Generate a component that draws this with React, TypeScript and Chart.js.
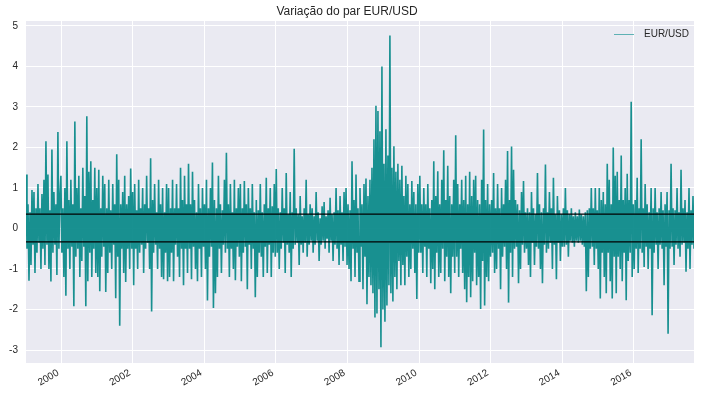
import React, { useEffect, useRef } from "react";
import { Chart, registerables } from "chart.js";

Chart.register(...registerables);

// ---- chart text ----
const chartTitle = "Variação do par EUR/USD";
const seriesLabel = "EUR/USD";

// ---- axes ----
const startYear = 1999.02;
const endYear = 2017.68;
const yMin = -3.32;
const yMax = 5.12;
const xTickYears = [2000, 2002, 2004, 2006, 2008, 2010, 2012, 2014, 2016];
const yTickValues = [-3, -2, -1, 0, 1, 2, 3, 4, 5];

// ---- reference lines (mean +/- std) ----
const bandLevels = [0.355, -0.33];

// ---- daily % variation, read per ~1/36 year (alternating local high / low) ----
const v1999 = [1.33, -0.5, 0.6, -1.29, 0.4, -0.9, 0.95, -0.4, 0.9, -1.1, 0.5, -0.6, 1.1, -0.35, 0.5, -1.0, 0.85, -0.5, 1.2, -0.9, 2.15, -0.4, 1.33, -1.0, 0.45, -1.31, 1.95, -0.6, 0.9, -0.4, 0.6, -1.15, 2.38, -0.5, 0.8];
const v2000 = [1.3, -0.6, 0.5, -1.2, 1.0, -1.66, 2.15, -0.5, 0.7, -1.0, 1.2, -0.45, 0.6, -1.92, 2.64, -0.7, 1.0, -0.5, 1.3, -1.2, 0.5, -0.8, 1.5, -0.45, 0.8, -1.92, 2.77, -1.3, 1.4, -0.6, 1.66, -1.2, 0.7, -0.5, 1.5, -1.1];
const v2001 = [1.0, -1.2, 1.45, -1.55, 0.5, -0.7, 1.3, -0.45, 1.1, -1.57, 0.5, -1.1, 1.2, -0.6, 0.45, -1.0, 1.1, -0.4, 0.6, -1.72, 1.83, -0.7, 1.2, -2.4, 0.6, -0.5, 0.9, -1.1, 1.3, -1.32, 0.6, -0.5, 0.8, -1.0, 1.48, -0.5];
const v2002 = [0.9, -1.4, 1.1, -0.5, 0.45, -1.0, 1.2, -0.6, 0.5, -0.4, 1.0, -1.1, 0.6, -0.5, 1.3, -0.35, 0.5, -1.0, 1.73, -2.05, 0.7, -0.6, 1.1, -0.4, 0.4, -1.0, 1.2, -0.5, 0.6, -1.2, 1.0, -1.25, 0.4, -0.6, 1.1, -1.3];
const v2003 = [1.0, -1.2, 0.5, -0.6, 1.2, -1.3, 0.5, -0.4, 1.1, -0.7, 0.5, -1.2, 1.5, -0.5, 0.7, -1.4, 1.3, -0.5, 0.6, -1.1, 1.6, -0.5, 0.6, -1.25, 1.4, -0.45, 0.7, -1.0, 0.4, -1.3, 1.1, -0.5, 0.5, -1.2, 1.0, -0.45];
const v2004 = [0.6, -1.0, 1.2, -1.78, 0.5, -0.7, 1.0, -0.45, 1.63, -1.96, 0.7, -1.6, 0.5, -1.2, 1.3, -0.5, 0.6, -1.1, 0.45, -0.4, 1.2, -0.6, 1.87, -0.5, 0.6, -1.2, 1.1, -0.5, 0.4, -1.0, 1.2, -1.28, 0.5, -0.45, 1.0, -0.7];
const v2005 = [1.1, -1.3, 0.5, -0.6, 1.17, -0.45, 0.6, -1.5, 1.0, -0.4, 0.5, -1.0, 1.1, -0.5, 0.4, -1.7, 0.7, -1.2, 0.45, -0.6, 1.1, -0.7, 0.4, -1.2, 0.6, -0.45, 1.25, -1.1, 0.5, -0.4, 1.0, -1.2, 0.55, -0.6, 1.1, -0.7];
const v2006 = [1.47, -0.6, 0.5, -1.0, 0.4, -0.5, 1.0, -0.35, 0.5, -1.1, 1.37, -0.4, 0.35, -0.6, 0.9, -1.2, 0.4, -0.5, 1.97, -0.4, 0.5, -0.35, 0.35, -0.9, 0.8, -0.4, 0.3, -0.6, 0.5, -0.35, 1.2, -0.7, 0.35, -0.4, 0.6, -0.3];
const v2007 = [0.5, -0.6, 0.3, -0.4, 0.9, -0.3, 0.4, -0.8, 0.25, -0.4, 0.55, -0.3, 0.65, -0.5, 0.3, -0.25, 0.45, -0.6, 0.76, -0.3, 0.35, -0.8, 0.4, -0.4, 1.0, -0.5, 0.45, -0.9, 0.8, -0.4, 0.4, -0.8, 0.9, -0.45, 1.0, -0.9];
const v2008 = [0.6, -1.0, 0.45, -1.3, 1.66, -0.5, 0.7, -1.2, 1.33, -0.6, 0.5, -1.3, 1.0, -0.45, 0.6, -1.5, 1.1, -0.7, 1.23, -1.87, 0.8, -1.2, 1.2, -1.4, 1.5, -1.6, 2.2, -2.2, 3.03, -2.1, 2.9, -1.5, 2.4, -2.93, 4.0, -2.0];
const v2009 = [1.6, -2.3, 2.45, -1.9, 1.8, -1.4, 4.76, -1.6, 1.5, -1.8, 2.03, -1.2, 1.4, -1.5, 1.6, -0.8, 1.2, -1.4, 1.55, -0.9, 0.8, -1.4, 1.3, -0.7, 1.1, -1.2, 0.6, -1.0, 1.17, -0.5, 0.9, -1.1, 0.6, -1.74, 1.1, -0.6];
const v2010 = [1.3, -0.6, 0.6, -1.1, 1.0, -0.45, 0.6, -1.2, 1.1, -0.5, 0.5, -1.35, 0.7, -1.0, 1.66, -1.5, 0.8, -0.6, 1.41, -1.2, 0.6, -1.1, 1.2, -0.5, 1.93, -1.3, 0.7, -0.7, 1.55, -1.2, 0.8, -1.6, 0.6, -0.7, 1.2, -1.1];
const v2011 = [2.3, -0.7, 1.1, -1.2, 0.6, -0.5, 1.2, -1.1, 0.7, -1.5, 1.3, -1.82, 0.6, -1.2, 1.4, -1.7, 0.8, -1.3, 1.2, -0.6, 1.3, -1.4, 0.7, -1.2, 0.6, -1.99, 1.2, -0.8, 2.44, -1.9, 0.7, -1.2, 1.1, -1.3, 0.6, -0.7];
const v2012 = [0.7, -0.6, 1.37, -1.1, 0.5, -1.0, 1.1, -0.5, 0.5, -1.5, 1.0, -0.7, 0.6, -0.45, 1.2, -1.0, 1.91, -1.83, 0.7, -0.6, 2.02, -1.2, 1.45, -0.5, 0.7, -0.45, 0.6, -1.35, 0.45, -1.0, 0.9, -0.4, 1.17, -0.6, 0.4, -0.5];
const v2013 = [0.5, -0.9, 0.4, -1.2, 0.9, -0.35, 0.5, -0.9, 0.35, -0.45, 1.37, -0.5, 0.6, -1.0, 0.4, -1.35, 0.5, -0.4, 1.58, -0.6, 0.4, -0.5, 0.9, -0.35, 0.5, -1.0, 1.25, -0.4, 0.35, -1.25, 0.8, -0.35, 0.45, -0.8, 0.35, -0.45];
const v2014 = [0.5, -0.45, 1.0, -0.4, 0.45, -0.7, 0.35, -0.3, 0.5, -0.35, 0.3, -0.45, 0.4, -0.3, 0.3, -0.35, 0.47, -0.3, 0.35, -0.4, 0.3, -0.45, 0.4, -1.55, 0.45, -1.2, 0.5, -0.5, 1.0, -0.45, 0.5, -0.9, 1.0, -0.5, 0.45, -1.0];
const v2015 = [1.0, -1.73, 0.7, -0.6, 0.9, -1.2, 0.6, -1.6, 1.6, -0.6, 1.2, -1.3, 0.6, -1.73, 2.0, -0.7, 1.3, -1.6, 1.4, -0.7, 0.7, -1.0, 1.8, -1.3, 0.7, -0.6, 1.0, -1.77, 1.35, -0.8, 0.7, -0.6, 3.13, -1.2, 0.6, -1.0];
const v2016 = [0.7, -0.5, 1.25, -1.1, 0.5, -0.5, 2.2, -0.6, 0.5, -0.95, 1.1, -0.45, 0.6, -1.0, 0.4, -0.5, 1.0, -2.14, 0.5, -0.6, 1.0, -0.4, 0.4, -1.0, 0.5, -0.4, 0.9, -0.5, 0.45, -1.4, 0.6, -0.45, 0.9, -2.6, 0.45, -0.5];
const v2017 = [1.6, -0.45, 0.5, -0.9, 0.45, -0.4, 1.0, -0.5, 0.4, -0.7, 1.45, -0.4, 0.5, -0.35, 0.7, -1.07, 0.4, -0.5, 1.0, -1.0, 0.45, -0.4, 0.8, -0.5];

const yearlySeries = [
  v1999, v2000, v2001, v2002, v2003, v2004, v2005, v2006, v2007, v2008,
  v2009, v2010, v2011, v2012, v2013, v2014, v2015, v2016, v2017,
];

// ---- style ----
const FONT = '"Liberation Sans", Arial, "DejaVu Sans", sans-serif';
const TEXT_COLOR = "#262626";
const BG = "#EAEAF2";
const LINE_COLOR = "rgba(5,136,136,0.92)";

export default function App() {
  const ref = useRef<HTMLCanvasElement | null>(null);

  useEffect(() => {
    const canvas = ref.current;
    if (!canvas) return;

    const values = yearlySeries.flat();
    const n = values.length;
    const step = (endYear - startYear) / (n - 1);
    const points = values.map((v, i) => ({ x: startYear + i * step, y: v }));

    const bgPlugin = {
      id: "bgPlugin",
      beforeDraw(chart: any) {
        const { ctx, chartArea } = chart;
        ctx.save();
        ctx.fillStyle = BG;
        ctx.fillRect(chartArea.left, chartArea.top, chartArea.right - chartArea.left, chartArea.bottom - chartArea.top);
        ctx.restore();
      },
    };

    const legendPlugin = {
      id: "legendPlugin",
      afterDraw(chart: any) {
        const { ctx, chartArea } = chart;
        const y = chartArea.top + 13;
        const x0 = chartArea.right - 80;
        ctx.save();
        ctx.strokeStyle = "rgba(0,139,139,0.6)";
        ctx.lineWidth = 1;
        ctx.beginPath();
        ctx.moveTo(x0, y + 0.5);
        ctx.lineTo(x0 + 20, y + 0.5);
        ctx.stroke();
        ctx.fillStyle = TEXT_COLOR;
        ctx.font = `10px ${FONT}`;
        ctx.textAlign = "left";
        ctx.textBaseline = "middle";
        ctx.fillText(seriesLabel, x0 + 30, y + 0.5);
        ctx.restore();
      },
    };

    const chart = new Chart(canvas, {
      type: "line",
      data: {
        datasets: [
          {
            label: seriesLabel,
            data: points,
            borderColor: LINE_COLOR,
            borderWidth: 1.6,
            pointRadius: 0,
            tension: 0,
            order: 2,
          },
          ...bandLevels.map((lvl, i) => ({
            label: "band" + i,
            data: [
              { x: startYear, y: lvl },
              { x: endYear, y: lvl },
            ],
            borderColor: "#000000",
            borderWidth: 1.3,
            pointRadius: 0,
            tension: 0,
            order: 0,
          })),
        ],
      },
      options: {
        responsive: false,
        animation: false,
        normalized: true,
        events: [],
        layout: { padding: { left: 0, right: 8, top: 0, bottom: 0 } },
        plugins: {
          legend: { display: false },
          tooltip: { enabled: false },
          title: {
            display: true,
            text: chartTitle,
            color: TEXT_COLOR,
            font: { family: FONT, size: 12, weight: "normal" },
            padding: { top: 4, bottom: 2.6 },
          },
        },
        scales: {
          x: {
            type: "linear",
            min: startYear,
            max: endYear,
            border: { display: false },
            grid: { color: "#ffffff", lineWidth: 1, drawTicks: false },
            afterBuildTicks(scale: any) {
              scale.ticks = xTickYears.map((v) => ({ value: v }));
            },
            afterFit(scale: any) {
              scale.height = 34;
            },
            ticks: {
              autoSkip: false,
              includeBounds: false,
              maxRotation: 30,
              minRotation: 30,
              padding: 4,
              labelOffset: -3,
              color: TEXT_COLOR,
              font: { family: FONT, size: 10 },
              callback: (v: any) => String(Math.round(Number(v))),
            },
          },
          y: {
            type: "linear",
            min: yMin,
            max: yMax,
            border: { display: false },
            grid: { color: "#ffffff", lineWidth: 1, drawTicks: false },
            afterBuildTicks(scale: any) {
              scale.ticks = yTickValues.map((v) => ({ value: v }));
            },
            afterFit(scale: any) {
              scale.width = 26;
            },
            ticks: {
              autoSkip: false,
              includeBounds: false,
              padding: 8,
              color: TEXT_COLOR,
              font: { family: FONT, size: 10 },
              callback: (v: any) => String(Math.round(Number(v))),
            },
          },
        },
      } as any,
      plugins: [bgPlugin, legendPlugin],
    });

    return () => chart.destroy();
  }, []);

  return (
    <div style={{ position: "fixed", left: 0, top: 0, width: 702, height: 397, background: "#fff" }}>
      <canvas ref={ref} width={702} height={397} style={{ display: "block", width: 702, height: 397 }} />
    </div>
  );
}
